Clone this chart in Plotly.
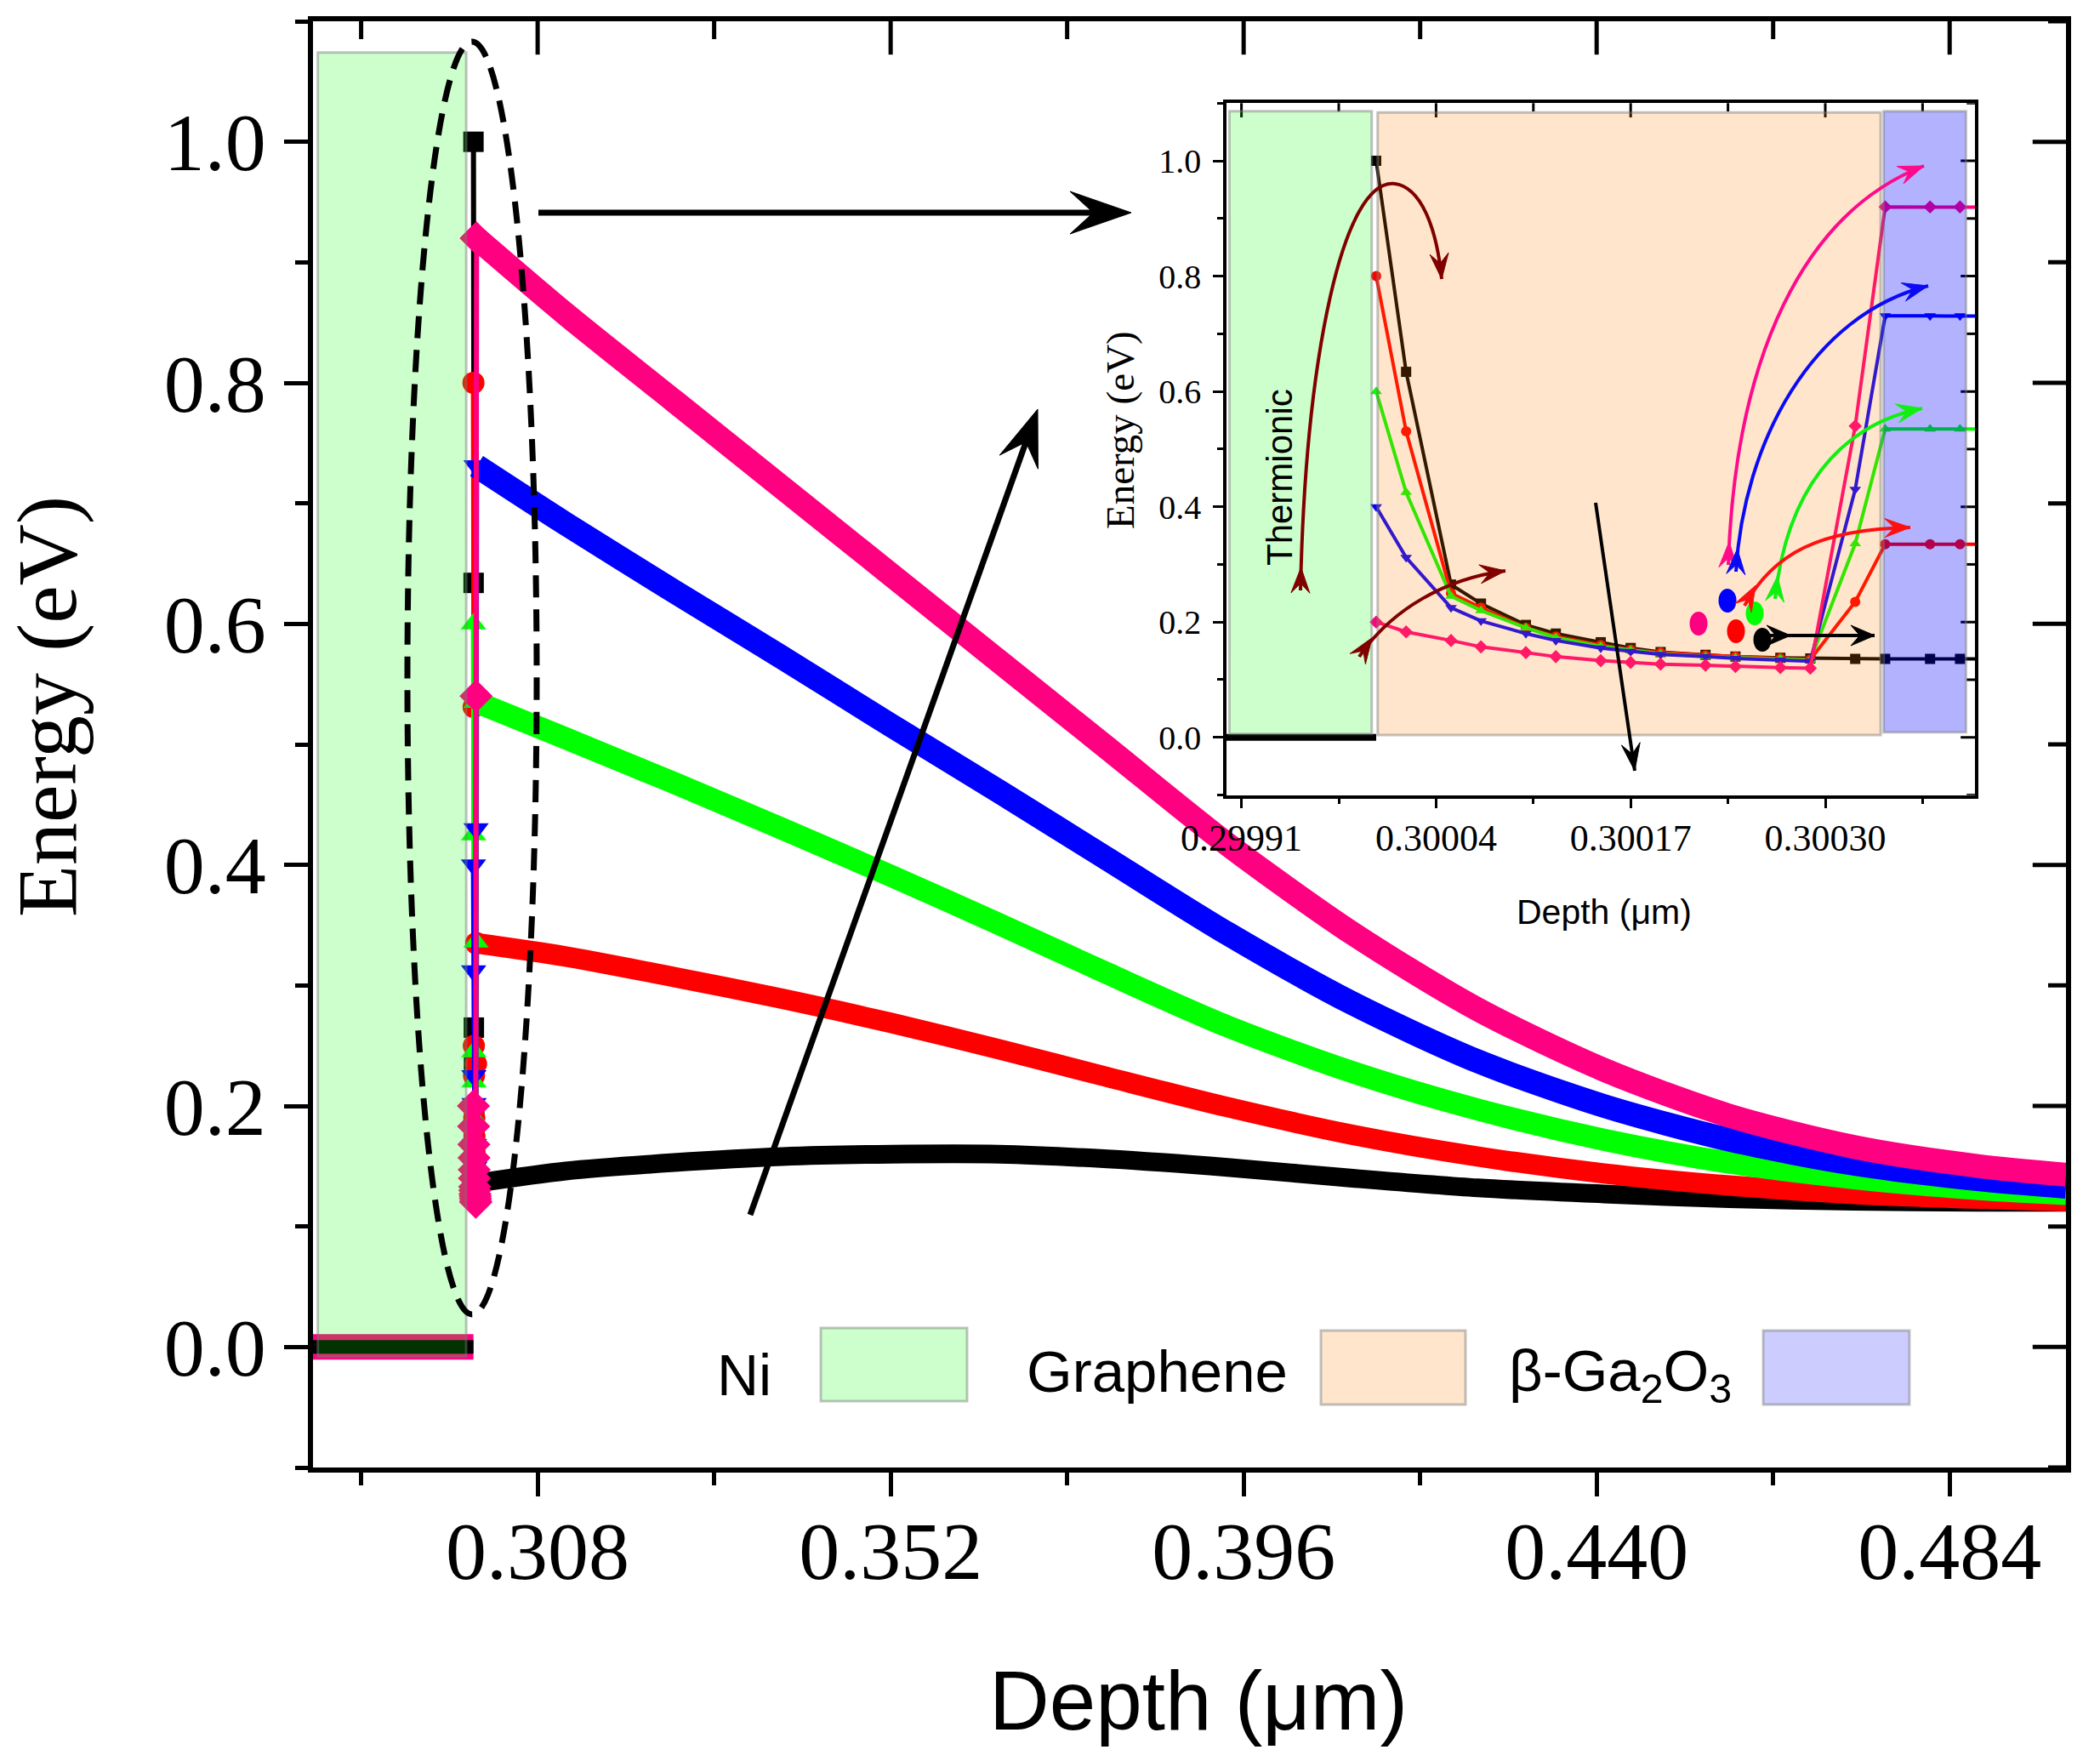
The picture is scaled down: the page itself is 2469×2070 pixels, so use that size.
import plotly.graph_objects as go

# ---------------- data ----------------
DEPTH_NI = [0.2800, 0.3000]
DEPTH_GRID = [0.30000, 0.30002, 0.30005, 0.30007, 0.30010, 0.30012, 0.30015, 0.30017,
              0.30019, 0.30022, 0.30024, 0.30027, 0.30029, 0.30032, 0.30034, 0.30037, 0.30039]
DEPTH_TAIL = [0.3115, 0.3250, 0.3385, 0.3520, 0.3655, 0.3790, 0.3940, 0.4096,
              0.4252, 0.4409, 0.4565, 0.4721, 0.4877, 0.4985]

E_NI = [0.0, 0.0]

BLACK_NEAR = [1.000, 0.634, 0.265, 0.232, 0.195, 0.180, 0.165, 0.155, 0.148, 0.143, 0.140, 0.138, 0.137, 0.136, 0.136, 0.136, 0.136]
BLACK_TAIL = [0.146, 0.153, 0.158, 0.160, 0.160, 0.156, 0.149, 0.140, 0.132, 0.127, 0.123, 0.121, 0.120, 0.120]
RED_NEAR = [0.800, 0.531, 0.250, 0.225, 0.190, 0.175, 0.160, 0.152, 0.147, 0.142, 0.140, 0.137, 0.135, 0.235, 0.335, 0.335, 0.335]
RED_TAIL = [0.324, 0.307, 0.289, 0.269, 0.247, 0.224, 0.199, 0.176, 0.158, 0.144, 0.134, 0.127, 0.123, 0.121]
GREEN_NEAR = [0.600, 0.425, 0.245, 0.220, 0.190, 0.173, 0.158, 0.151, 0.145, 0.140, 0.138, 0.136, 0.134, 0.336, 0.535, 0.535, 0.535]
GREEN_TAIL = [0.505, 0.468, 0.430, 0.391, 0.351, 0.310, 0.266, 0.228, 0.197, 0.172, 0.153, 0.140, 0.131, 0.127]
BLUE_NEAR = [0.400, 0.312, 0.225, 0.202, 0.180, 0.168, 0.155, 0.149, 0.144, 0.140, 0.137, 0.134, 0.132, 0.430, 0.731, 0.731, 0.731]
BLUE_TAIL = [0.683, 0.627, 0.572, 0.516, 0.461, 0.405, 0.343, 0.285, 0.237, 0.200, 0.172, 0.152, 0.139, 0.133]
PINK_NEAR = [0.200, 0.183, 0.168, 0.157, 0.147, 0.140, 0.133, 0.130, 0.127, 0.125, 0.123, 0.121, 0.120, 0.540, 0.920, 0.920, 0.920]
PINK_TAIL = [0.857, 0.785, 0.713, 0.641, 0.569, 0.497, 0.417, 0.343, 0.280, 0.230, 0.192, 0.166, 0.150, 0.143]

MAIN_X_TICK0, MAIN_X_DTICK = 0.308, 0.044
MAIN_Y_DTICK = 0.2
INSET_X_TICK0, INSET_X_DTICK = 0.29991, 0.00013

# ---------------- styling ----------------
SERIES = [
    # near, tail, colour, symbol, main marker size, band width
    (BLACK_NEAR, BLACK_TAIL, "#000000", "square", 24, 22),
    (RED_NEAR, RED_TAIL, "#ff0000", "circle", 26, 24),
    (GREEN_NEAR, GREEN_TAIL, "#00ff00", "triangle-up", 26, 26),
    (BLUE_NEAR, BLUE_TAIL, "#0000ff", "triangle-down", 26, 28),
    (PINK_NEAR, PINK_TAIL, "#ff0080", "diamond", 30, 28),
]

W, H = 2469, 2070
PL, PR, PT, PB = 368, 2429, 25, 1725
MAIN_XR = [0.28, 0.4985]
MAIN_YR = [-0.1, 1.1]
INS_XR = [0.2999, 0.3004]
INS_YR = [-0.1, 1.1]


def P(ox, oy):
    """pixel position -> paper fraction"""
    return (ox - PL) / (PR - PL), (PB - oy) / (PB - PT)


fig = go.Figure()

# main plot: spike (graphene) + band (beta-Ga2O3 tail)
for near, tail, col, sym, msz, bw in SERIES:
    fig.add_trace(go.Scatter(
        x=[DEPTH_GRID[-1]] + DEPTH_TAIL, y=[near[-1]] + tail,
        mode="lines", line=dict(color=col, width=bw, shape="spline", smoothing=0.8),
        hoverinfo="skip", showlegend=False))
    fig.add_trace(go.Scatter(
        x=DEPTH_GRID, y=near, mode="lines+markers",
        line=dict(color=col, width=6),
        marker=dict(symbol=sym, size=msz, color=col, line=dict(width=0)),
        hoverinfo="skip", showlegend=False))

# Ni region (all series at zero)
fig.add_trace(go.Scatter(x=DEPTH_NI, y=E_NI, mode="lines",
                         line=dict(color="#ff0080", width=30), hoverinfo="skip", showlegend=False))
fig.add_trace(go.Scatter(x=DEPTH_NI, y=E_NI, mode="lines",
                         line=dict(color="#000000", width=16), hoverinfo="skip", showlegend=False))

# inset traces
for near, tail, col, sym, msz, bw in SERIES:
    fig.add_trace(go.Scatter(
        x=DEPTH_GRID + DEPTH_TAIL[:1], y=near + tail[:1],
        mode="lines+markers", line=dict(color=col, width=4),
        marker=dict(symbol=sym, size=12, color=col, line=dict(width=0)),
        xaxis="x2", yaxis="y2", hoverinfo="skip", showlegend=False))
fig.add_trace(go.Scatter(x=DEPTH_NI, y=E_NI, mode="lines",
                         line=dict(color="#000000", width=8),
                         xaxis="x2", yaxis="y2", hoverinfo="skip", showlegend=False))


# inward-pointing tick marks on the top and right frame edges (clipped to the plot area)
def inside_ticks(xr, yr, x0, dx, y0, dy, major_len, minor_len, width, xa, ya):
    def seq(start, step, lo, hi):
        out, v = [], start
        while v > lo:
            v -= step
        while v <= hi + 1e-12:
            if v >= lo - 1e-12:
                out.append(v)
            v += step
        return out
    xs_major = seq(x0, dx, xr[0], xr[1])
    xs_minor = seq(x0 + dx / 2, dx, xr[0], xr[1])
    ys_major = seq(y0, dy, yr[0], yr[1])
    ys_minor = seq(y0 + dy / 2, dy, yr[0], yr[1])
    for xs, ln in ((xs_major, major_len), (xs_minor, minor_len)):
        fig.add_trace(go.Scatter(x=xs, y=[yr[1]] * len(xs), mode="markers", xaxis=xa, yaxis=ya,
                                 marker=dict(symbol="line-ns", size=2 * ln,
                                             line=dict(color="black", width=width)),
                                 hoverinfo="skip", showlegend=False, cliponaxis=True))
    for ys, ln in ((ys_major, major_len), (ys_minor, minor_len)):
        fig.add_trace(go.Scatter(x=[xr[1]] * len(ys), y=ys, mode="markers", xaxis=xa, yaxis=ya,
                                 marker=dict(symbol="line-ew", size=2 * ln,
                                             line=dict(color="black", width=width)),
                                 hoverinfo="skip", showlegend=False, cliponaxis=True))


inside_ticks(MAIN_XR, MAIN_YR, MAIN_X_TICK0, MAIN_X_DTICK, 0.0, MAIN_Y_DTICK, 28, 15, 5, "x", "y")
inside_ticks(INS_XR, INS_YR, INSET_X_TICK0, INSET_X_DTICK, 0.0, 0.2, 12, 7, 3, "x2", "y2")

# ---------------- axes ----------------
SERIF = "Liberation Serif"
SANS = "Liberation Sans"
main_x = dict(range=MAIN_XR, tick0=MAIN_X_TICK0, dtick=MAIN_X_DTICK, tickformat=".3f")
main_y = dict(range=MAIN_YR, tick0=0, dtick=MAIN_Y_DTICK, tickformat=".1f")

common_main = dict(showgrid=False, zeroline=False, linecolor="black", linewidth=6,
                   tickcolor="black", tickwidth=5, ticklen=28)
fig.update_layout(
    xaxis=dict(**main_x, **common_main, showline=True, mirror=True, ticks="outside",
               tickfont=dict(family=SERIF, size=96, color="black"),
               minor=dict(dtick=MAIN_X_DTICK / 2, ticks="outside", ticklen=15, tickwidth=5, tickcolor="black"),
               anchor="y"),
    yaxis=dict(**main_y, **common_main, showline=True, mirror=True, ticks="outside",
               tickfont=dict(family=SERIF, size=96, color="black"), ticklabelstandoff=2,
               minor=dict(dtick=0.1, ticks="outside", ticklen=15, tickwidth=5, tickcolor="black"),
               anchor="x"),
)

ix0, _ = P(1442, 0)
ix1, _ = P(2322, 0)
_, iy0 = P(0, 934.5)
_, iy1 = P(0, 121.3)
ins_x = dict(range=INS_XR, tick0=INSET_X_TICK0, dtick=INSET_X_DTICK, tickformat=".5f")
ins_y = dict(range=INS_YR, tick0=0, dtick=0.2, tickformat=".1f")
common_ins = dict(showgrid=False, zeroline=False, linecolor="black", linewidth=3.5,
                  tickcolor="black", tickwidth=3, ticklen=12)
fig.update_layout(
    xaxis2=dict(**ins_x, **common_ins, domain=[ix0, ix1], anchor="y2", showline=True, mirror=True,
                ticks="outside", tickfont=dict(family=SERIF, size=44, color="black"),
                minor=dict(dtick=INSET_X_DTICK / 2, ticks="outside", ticklen=7, tickwidth=3, tickcolor="black")),
    yaxis2=dict(**ins_y, **common_ins, domain=[iy0, iy1], anchor="x2", showline=True, mirror=True,
                ticks="outside", tickfont=dict(family=SERIF, size=40, color="black"), ticklabelstandoff=6,
                minor=dict(dtick=0.1, ticks="outside", ticklen=7, tickwidth=3, tickcolor="black")),
)
try:
    fig.layout.xaxis.ticklabelstandoff = -18
except Exception:
    fig.layout.xaxis.ticklabelstandoff = 0
try:
    fig.layout.xaxis2.ticklabelstandoff = -3
except Exception:
    fig.layout.xaxis2.ticklabelstandoff = 0

# ---------------- shapes ----------------
shapes = []
annos = []
BORDER = dict(color="rgba(120,120,120,0.45)", width=3)


def dot(cx, cy, col, layer):
    x0, y0 = P(cx - 10.5, cy + 14)
    x1, y1 = P(cx + 10.5, cy - 14)
    shapes.append(dict(type="circle", xref="paper", yref="paper", x0=x0, y0=y0, x1=x1, y1=y1,
                       fillcolor=col, line=dict(width=0), layer=layer))


# electron dots in Ni region (under the green overlay)
for cx, cy, col in [(1533, 767, "#ff0080"), (1515, 791, "#ff0000"), (1560, 793, "#00ff00"),
                    (1550, 825, "#000000"), (1583, 808, "#0000ff")]:
    dot(cx, cy, col, "below")

# main Ni overlay
shapes.append(dict(type="rect", xref="x", yref="y", x0=0.2806, x1=0.2991, y0=-0.008, y1=1.074,
                   fillcolor="rgba(0,255,0,0.2)", line=BORDER, layer="above"))
# inset region overlays
shapes.append(dict(type="rect", xref="x2", yref="y2", x0=0.299902, x1=0.299997, y0=0.006, y1=1.086,
                   fillcolor="rgba(0,255,0,0.2)", line=BORDER, layer="above"))
shapes.append(dict(type="rect", xref="x2", yref="y2", x0=0.300001, x1=0.300337, y0=0.004, y1=1.084,
                   fillcolor="rgba(255,125,0,0.2)", line=BORDER, layer="above"))
shapes.append(dict(type="rect", xref="x2", yref="y2", x0=0.300339, x1=0.300394, y0=0.009, y1=1.086,
                   fillcolor="rgba(0,0,255,0.3)", line=BORDER, layer="above"))

# electron dots in graphene (on top)
for cx, cy, col in [(1997, 733, "#ff0080"), (2031, 706, "#0000ff"), (2041, 742, "#ff0000"),
                    (2063, 721, "#00ff00"), (2072, 752, "#000000")]:
    dot(cx, cy, col, "above")

# dashed ellipse
ex0, ey0 = P(479, 1545)
ex1, ey1 = P(631, 49)
shapes.append(dict(type="circle", xref="paper", yref="paper", x0=ex0, y0=ey0, x1=ex1, y1=ey1,
                   line=dict(color="black", width=7, dash="26px,14px"), layer="above"))


def unit(a, b):
    dx, dy = b[0] - a[0], b[1] - a[1]
    n = (dx * dx + dy * dy) ** 0.5
    return dx / n, dy / n


def head(tip, u, col, L, w):
    """filled stealth arrow head with its tip at `tip`, pointing along unit vector u (pixels)"""
    nx, ny = -u[1], u[0]
    bx, by = tip[0] - L * u[0], tip[1] - L * u[1]
    pts = [tip, (bx + w * nx, by + w * ny), (tip[0] - 0.62 * L * u[0], tip[1] - 0.62 * L * u[1]),
           (bx - w * nx, by - w * ny)]
    path = "M " + " L ".join("%f,%f" % P(*p) for p in pts) + " Z"
    shapes.append(dict(type="path", xref="paper", yref="paper", path=path,
                       fillcolor=col, line=dict(color=col, width=1), layer="above"))


def curve_arrow(pts, col, width, L, w, start_head=True):
    """pts: P0, then triples of (C1, C2, P) in pixel coords"""
    path = "M %f,%f" % P(*pts[0])
    segs = pts[1:]
    for i in range(0, len(segs), 3):
        c1, c2, p = segs[i:i + 3]
        path += " C %f,%f %f,%f %f,%f" % (P(*c1) + P(*c2) + P(*p))
    shapes.append(dict(type="path", xref="paper", yref="paper", path=path,
                       line=dict(color=col, width=width), layer="above"))
    head(segs[-1], unit(segs[-2], segs[-1]), col, L, w)
    if start_head:
        u = unit(pts[0], segs[0])
        head((pts[0][0] + u[0] * L * 0.9, pts[0][1] + u[1] * L * 0.9), u, col, L, w)


DARKRED = "#800000"
curve_arrow([(1529, 694), (1535, 419), (1579, 209), (1640, 216),
             (1670, 220), (1689, 266), (1695, 328)], DARKRED, 4, 30, 11)
curve_arrow([(1598, 772), (1636, 716), (1700, 680), (1770, 671)], DARKRED, 4, 30, 11)
curve_arrow([(2032, 664), (2040, 420), (2120, 250), (2262, 195)], "#ff0a8a", 4, 30, 11)
curve_arrow([(2041, 672), (2050, 520), (2130, 370), (2267, 336)], "#0a0af5", 4, 30, 11)
curve_arrow([(2087, 704), (2100, 580), (2160, 500), (2260, 480)], "#10f010", 4, 30, 11)
curve_arrow([(2051, 712), (2085, 650), (2140, 622), (2246, 620)], "#ff1010", 4, 30, 11)
curve_arrow([(2080, 747), (2120, 747), (2160, 747), (2204, 747)], "#000000", 4, 28, 12)
curve_arrow([(1876, 591), (1891, 695), (1906, 798), (1922, 906)], "#000000", 4, 32, 11,
            start_head=False)


def straight_arrow(tail, tip, col, width, L, w):
    u = unit(tail, tip)
    end = (tip[0] - 0.6 * L * u[0], tip[1] - 0.6 * L * u[1])
    x0, y0 = P(*tail)
    x1, y1 = P(*end)
    shapes.append(dict(type="line", xref="paper", yref="paper", x0=x0, y0=y0, x1=x1, y1=y1,
                       line=dict(color=col, width=width), layer="above"))
    head(tip, u, col, L, w)


straight_arrow((633, 250), (1330, 250), "black", 7, 72, 25)
straight_arrow((882, 1428), (1220, 481), "black", 7, 66, 24)

# ---------------- text ----------------
def text(ox, oy, s, family, size, angle=0, xanchor="center"):
    x, y = P(ox, oy)
    annos.append(dict(x=x, y=y, xref="paper", yref="paper", text=s, showarrow=False,
                      font=dict(family=family, size=size, color="black"), textangle=angle,
                      xanchor=xanchor, yanchor="middle"))


text(55, 831, "Energy (eV)", SERIF, 100, -90)
text(1409, 1999, "Depth (μm)", SANS, 98)
text(1317, 506, "Energy (eV)", SERIF, 47, -90)
text(1886, 1072, "Depth (μm)", SANS, 41)
text(1504, 561, "Thermionic", SANS, 42, -90)

# legend-like boxes
text(875, 1616, "Ni", SANS, 68)
text(1360, 1612, "Graphene", SANS, 69)
text(1905, 1616, "β-Ga<sub>2</sub>O<sub>3</sub>", SANS, 69)
for (x0p, y0p, x1p, y1p, col) in [(965, 1561, 1137, 1647, "rgba(0,255,0,0.2)"),
                                  (1553, 1564, 1723, 1651, "rgba(255,125,0,0.2)"),
                                  (2073, 1564, 2245, 1651, "rgba(0,0,255,0.2)")]:
    a, b = P(x0p, y1p)
    c, d = P(x1p, y0p)
    shapes.append(dict(type="rect", xref="paper", yref="paper", x0=a, y0=b, x1=c, y1=d,
                       fillcolor=col, line=BORDER, layer="above"))

fig.update_layout(
    width=W, height=H,
    margin=dict(l=PL, r=W - PR, t=PT, b=H - PB, pad=0),
    paper_bgcolor="white", plot_bgcolor="white",
    showlegend=False,
    shapes=shapes, annotations=annos,
    font=dict(family=SERIF, color="black"),
)

fig.write_html("out.html", config={"displayModeBar": False},
               post_script="document.body.style.margin='0';document.body.style.overflow='hidden';")
